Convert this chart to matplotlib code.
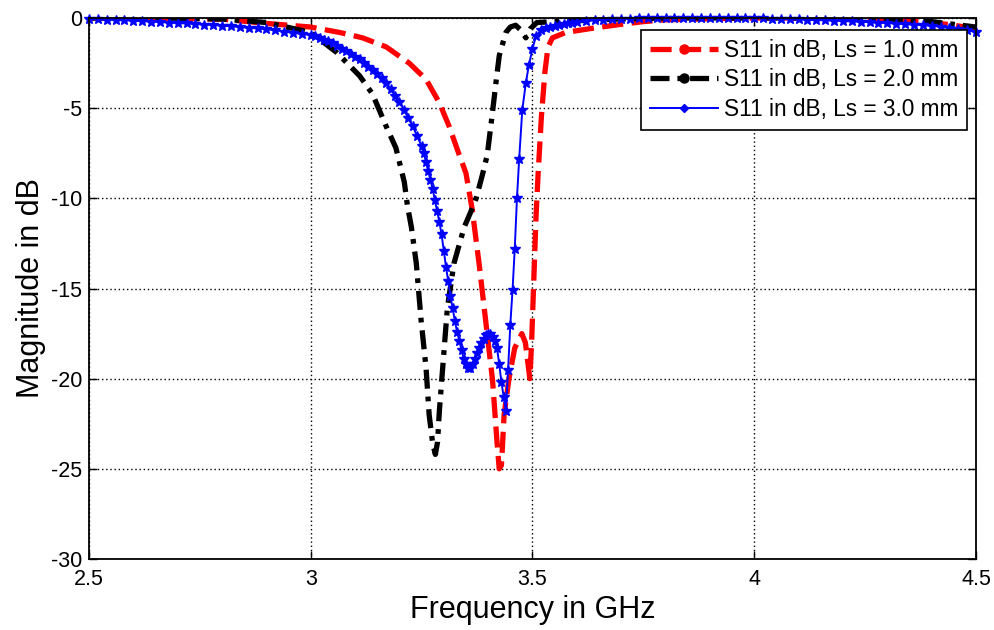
import matplotlib
matplotlib.use("Agg")
import matplotlib.pyplot as plt
from matplotlib.lines import Line2D

plt.rcParams["font.family"] = ["Liberation Sans", "DejaVu Sans"]
plt.rcParams["axes.unicode_minus"] = False

# S11, Ls = 1.0 mm
freq_ls1 = [2.5, 2.6, 2.7, 2.8, 2.9, 3.0, 3.065, 3.117, 3.17, 3.222, 3.26,
            3.29, 3.312, 3.335, 3.35, 3.364, 3.38, 3.395, 3.41, 3.42, 3.425,
            3.43, 3.436, 3.447, 3.46, 3.476, 3.484, 3.49, 3.494, 3.498,
            3.503, 3.508, 3.513, 3.52, 3.528, 3.535, 3.545, 3.575, 3.64,
            3.7, 3.75, 3.8, 3.9, 4.0, 4.1, 4.2, 4.3, 4.4, 4.45, 4.5]
s11_ls1 = [0.0, 0.0, -0.02, -0.06, -0.3, -0.5, -0.8, -1.1, -1.6, -2.5,
           -3.4, -4.7, -6.0, -7.6, -8.6, -10.6, -13.7, -16.9, -20.1, -23.5,
           -25.0, -24.8, -22.0, -20.0, -18.3, -17.5, -18.0, -19.2, -20.0,
           -18.0, -14.5, -11.0, -8.5, -5.5, -3.0, -1.6, -1.1, -0.8, -0.55,
           -0.35, -0.2, -0.1, -0.04, 0.0, 0.0, -0.02, -0.08, -0.25, -0.4,
           -0.6]

# S11, Ls = 2.0 mm
freq_ls2 = [2.5, 2.6, 2.7, 2.8, 2.9, 3.0, 3.058, 3.11, 3.139, 3.17, 3.192,
            3.211, 3.218, 3.227, 3.238, 3.249, 3.26, 3.267, 3.275, 3.281,
            3.286, 3.29, 3.301, 3.308, 3.323, 3.346, 3.36, 3.373, 3.387,
            3.398, 3.409, 3.418, 3.425, 3.44, 3.45, 3.462, 3.475, 3.485,
            3.495, 3.51, 3.55, 3.6, 3.7, 3.8, 4.0, 4.2, 4.3, 4.4, 4.5]
s11_ls2 = [0.0, 0.0, -0.01, -0.06, -0.25, -0.8, -1.9, -3.2, -4.2, -6.0,
           -7.2, -9.1, -10.4, -11.6, -13.6, -16.8, -19.4, -22.0, -23.6,
           -24.2, -23.5, -21.8, -18.3, -16.1, -13.6, -11.6, -10.8, -10.0,
           -8.7, -7.6, -5.4, -3.5, -2.1, -0.8, -0.5, -0.4, -0.7, -1.1, -0.6,
           -0.25, -0.2, -0.15, -0.05, 0.0, 0.0, 0.0, -0.05, -0.2, -0.5]

# S11, Ls = 3.0 mm
freq_ls3 = [2.50, 2.52, 2.54, 2.56, 2.58, 2.60, 2.62, 2.64, 2.66, 2.68,
            2.70, 2.72, 2.74, 2.76, 2.78, 2.80, 2.82, 2.84, 2.86, 2.88,
            2.90, 2.92, 2.94, 2.96, 2.98,
            3.00, 3.01, 3.02, 3.03, 3.04, 3.05, 3.06, 3.07, 3.08, 3.09,
            3.10, 3.11, 3.12, 3.13, 3.14, 3.15, 3.16, 3.17, 3.18, 3.19,
            3.20, 3.21, 3.22, 3.23, 3.24,
            3.250, 3.255, 3.260, 3.265, 3.270, 3.275, 3.280, 3.285, 3.290,
            3.295, 3.300, 3.305, 3.310, 3.315, 3.320, 3.325, 3.330, 3.335,
            3.340, 3.345, 3.350, 3.355, 3.360, 3.365, 3.370, 3.375, 3.380,
            3.385, 3.390, 3.395, 3.400, 3.405, 3.410, 3.415, 3.420, 3.425,
            3.430, 3.435, 3.440,
            3.445, 3.45, 3.455, 3.46, 3.465, 3.47, 3.477, 3.485, 3.492,
            3.50, 3.508, 3.52, 3.53, 3.54, 3.55, 3.56, 3.57, 3.58, 3.59,
            3.60, 3.62, 3.64, 3.66, 3.68, 3.70, 3.72, 3.74, 3.76, 3.78,
            3.80, 3.82, 3.84, 3.86, 3.88, 3.90, 3.92, 3.94, 3.96, 3.98,
            4.00, 4.02, 4.04, 4.06, 4.08, 4.10, 4.12, 4.14, 4.16, 4.18,
            4.20, 4.22, 4.24, 4.26, 4.28, 4.30, 4.32, 4.34, 4.36, 4.38,
            4.40, 4.42, 4.44, 4.46, 4.48, 4.50]
s11_ls3 = [-0.05, -0.07, -0.09, -0.11, -0.13, -0.15, -0.17, -0.2, -0.22,
           -0.25, -0.28, -0.3, -0.33, -0.36, -0.39, -0.42, -0.46, -0.5,
           -0.54, -0.58, -0.62, -0.68, -0.75, -0.82, -0.88,
           -0.95, -1.02, -1.1, -1.2, -1.3, -1.4, -1.55, -1.7, -1.85, -2.0,
           -2.15, -2.3, -2.5, -2.7, -2.9, -3.1, -3.35, -3.6, -3.95, -4.3,
           -4.65, -5.1, -5.55, -6.0, -6.55,
           -7.1, -7.5, -8.0, -8.5, -9.0, -9.5, -10.1, -10.7, -11.3, -12.0,
           -12.9, -13.8, -14.6, -15.4, -16.1, -16.8, -17.4, -17.9, -18.4,
           -18.9, -19.2, -19.4, -19.4, -19.2, -18.9, -18.6, -18.3, -18.0,
           -17.8, -17.6, -17.5, -17.5, -17.7, -17.9, -18.3, -19.2, -20.2,
           -21.0, -21.8,
           -19.5, -17.0, -15.1, -12.8, -10.0, -7.8, -5.1, -3.6, -2.6,
           -1.7, -1.0, -0.65, -0.55, -0.5, -0.45, -0.4, -0.35, -0.3, -0.27,
           -0.24, -0.18, -0.13, -0.1, -0.08, -0.05, -0.03, -0.02, -0.01,
           0.0, 0.0, 0.0, 0.0, 0.0, 0.0, 0.0, 0.0, 0.0, 0.0, 0.0,
           0.0, -0.02, -0.03, -0.04, -0.06, -0.08, -0.1, -0.11, -0.13,
           -0.15, -0.17, -0.19, -0.21, -0.23, -0.26, -0.28, -0.31, -0.34,
           -0.37, -0.4, -0.44, -0.48, -0.53, -0.6, -0.68, -0.78]

labels = ["S11 in dB, Ls = 1.0 mm", "S11 in dB, Ls = 2.0 mm",
          "S11 in dB, Ls = 3.0 mm"]

fig = plt.figure(figsize=(9.94, 6.30), dpi=100)
ax = fig.add_axes([0.0895, 0.1127, 0.8924, 0.8587])

red_style = dict(color="red", lw=3.8, dashes=(4.0, 1.6))
black_style = dict(color="black", lw=3.8, dashes=(3.6, 1.5, 0.9, 1.5))
blue_style = dict(color="blue", lw=1.4)

ax.plot(freq_ls1, s11_ls1, **red_style)
ax.plot(freq_ls2, s11_ls2, **black_style)
ax.plot(freq_ls3, s11_ls3, marker="*", ms=7, mec="blue", mfc="blue",
        clip_on=False, **blue_style)

ax.set_xlim(2.5, 4.5)
ax.set_ylim(-30, 0)
ax.set_xticks([2.5, 3, 3.5, 4, 4.5])
ax.set_xticklabels(["2.5", "3", "3.5", "4", "4.5"])
ax.set_yticks([-30, -25, -20, -15, -10, -5, 0])
ax.grid(True, color="black", linestyle=(0, (1, 2)), lw=1.0)
ax.tick_params(direction="in", length=6, width=1.0, labelsize=15.5,
               top=True, right=True)
ax.tick_params(axis="x", pad=7)
ax.tick_params(axis="y", pad=5)
for sp in ax.spines.values():
    sp.set_linewidth(1.3)

ax.set_xlabel("Frequency in GHz", fontsize=22, labelpad=4)
ax.set_ylabel("Magnitude in dB", fontsize=22, labelpad=3)

handles = [
    Line2D([], [], marker=".", ms=13, **red_style),
    Line2D([], [], marker=".", ms=13, **black_style),
    Line2D([], [], marker="D", ms=4, **blue_style),
]
leg = ax.legend(handles, labels, loc="upper right",
                bbox_to_anchor=(0.99, 0.978), borderaxespad=0,
                fontsize=16.3, handlelength=3.0, handletextpad=0.25,
                labelspacing=0.28, borderpad=0.4, fancybox=False,
                framealpha=1, edgecolor="black", numpoints=1)
leg.get_frame().set_linewidth(1.2)

fig.savefig("out.png", dpi=100)
